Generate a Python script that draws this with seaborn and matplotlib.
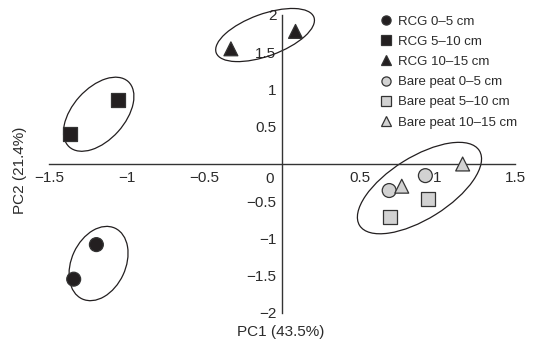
import numpy as np
import pandas as pd
import matplotlib
matplotlib.use("Agg")
import matplotlib.pyplot as plt
import seaborn as sns
from matplotlib.patches import Ellipse
from matplotlib.transforms import ScaledTranslation, offset_copy

# ---------------- data ----------------
group_labels = ["RCG 0–5 cm", "RCG 5–10 cm", "RCG 10–15 cm",
                "Bare peat 0–5 cm", "Bare peat 5–10 cm", "Bare peat 10–15 cm"]
sample_group = [group_labels[0], group_labels[0],
                group_labels[1], group_labels[1],
                group_labels[2], group_labels[2],
                group_labels[3], group_labels[3],
                group_labels[4], group_labels[4],
                group_labels[5], group_labels[5]]
pc1 = [-1.195, -1.341, -1.054, -1.367, -0.329, 0.087,
       0.690, 0.923, 0.695, 0.941, 0.771, 1.163]
pc2 = [-1.082, -1.546, 0.860, 0.401, 1.546, 1.780,
       -0.356, -0.156, -0.713, -0.468, -0.298, 0.000]

x_ticks = [-1.5, -1.0, -0.5, 0.0, 0.5, 1.0, 1.5]
x_tick_labels = ["−1.5", "−1", "−0.5", "", "0.5", "1", "1.5"]
y_ticks = [-2.0, -1.5, -1.0, -0.5, 0.5, 1.0, 1.5, 2.0]
y_tick_labels = ["−2", "−1.5", "−1", "−0.5", "0.5", "1", "1.5", "2"]

# grouping ellipses (centre in data units, semi-axes in pixels, angle in degrees)
ell_cx = [-1.181, -1.180, -0.109, 0.885]
ell_cy = [-1.336, 0.668, 1.731, -0.323]
ell_a = [39, 44, 52, 70.6]
ell_b = [27, 26, 21, 31]
ell_ang = [65, 48, 20, 32]

# ---------------- style ----------------
sns.set_theme(style="white")
plt.rcParams["font.family"] = ["Liberation Sans", "DejaVu Sans"]
text_col = "#2b2b2b"
black = "#231f20"
grey = "#d2d2d2"

palette = {g: (black if g.startswith("RCG") else grey) for g in group_labels}
markers = {}
for g in group_labels:
    if "0–5" in g:
        markers[g] = "o"
    elif "5–10" in g:
        markers[g] = "s"
    else:
        markers[g] = "^"

df = pd.DataFrame({"PC1": pc1, "PC2": pc2, "group": sample_group})

fig = plt.figure(figsize=(5.34, 3.40), dpi=100)
ax = fig.add_axes([49 / 534, 1 - 313 / 340, 466 / 534, 298 / 340])

# ellipses
for cx, cy, a, b, ang in zip(ell_cx, ell_cy, ell_a, ell_b, ell_ang):
    e = Ellipse((0, 0), 2 * a / 100, 2 * b / 100, angle=ang,
                transform=fig.dpi_scale_trans + ScaledTranslation(cx, cy, ax.transData),
                fill=False, edgecolor=black, linewidth=0.9, clip_on=False, zorder=2)
    ax.add_patch(e)

sns.scatterplot(data=df, x="PC1", y="PC2", hue="group", style="group",
                hue_order=group_labels, style_order=group_labels,
                palette=palette, markers=markers, s=100,
                edgecolor="#333333", linewidth=0.9, ax=ax, zorder=3,
                clip_on=False)

ax.set_xlim(-1.5, 1.5)
ax.set_ylim(-2, 2)

# axes through origin
for side in ["top", "right"]:
    ax.spines[side].set_visible(False)
ax.spines["left"].set_position(("data", 0))
ax.spines["bottom"].set_position(("data", 0))
for side in ["left", "bottom"]:
    ax.spines[side].set_color("#333333")
    ax.spines[side].set_linewidth(1.0)

ax.set_xticks(x_ticks)
ax.set_xticklabels(x_tick_labels)
ax.set_yticks(y_ticks)
ax.set_yticklabels(y_tick_labels)
ax.tick_params(axis="x", direction="in", length=4, width=1, color="#333333",
               labelsize=11, labelcolor=text_col, pad=5)
ax.tick_params(axis="y", direction="out", length=3, width=1, color="#333333",
               labelsize=11, labelcolor=text_col, pad=1)
ax.text(0, 0, "0", transform=offset_copy(ax.transData, fig, x=-12, y=-8, units="dots"),
        ha="center", va="top", fontsize=11, color=text_col)

ax.set_xlabel("PC1 (43.5%)", fontsize=11, color=text_col)
ax.set_ylabel("PC2 (21.4%)", fontsize=11, color=text_col)
ax.xaxis.set_label_coords(0.498, -0.04)
ax.yaxis.set_label_coords(-0.047, 0.48)

handles, labels = ax.get_legend_handles_labels()
ax.legend(handles, labels, loc="upper left",
          bbox_to_anchor=(379.5 / 534, 1 - 15.5 / 340), bbox_transform=fig.transFigure,
          frameon=False, borderpad=0, borderaxespad=0, handlelength=1.0,
          handletextpad=0.4, labelspacing=0.6, markerscale=0.66,
          prop={"size": 9.5}, labelcolor=text_col)

fig.savefig("out.png", dpi=100)
